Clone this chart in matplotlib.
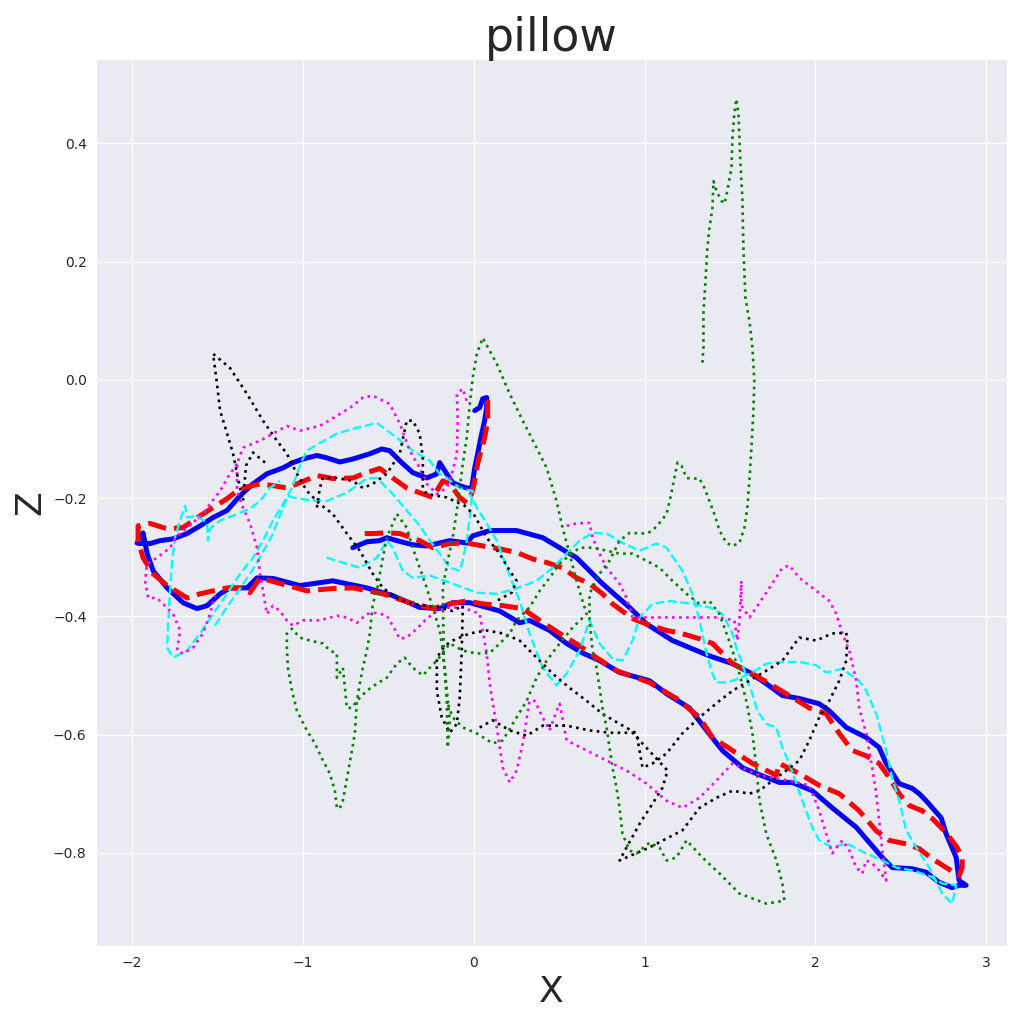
import matplotlib
matplotlib.use("Agg")
import matplotlib.pyplot as plt
import seaborn as sns

sns.set_style("darkgrid")
plt.rcParams['font.family'] = ['DejaVu Sans']

title = "pillow"
xlabel = "X"
ylabel = "Z"

# ---- blue solid trajectory ----
blue_x = [0.006, 0.035, 0.053, 0.076, 0.076, 0.064, 0.047, 0.023, 0.006, -0.006, -0.012, -0.041, -0.082, -0.123,
          -0.158, -0.199, -0.216, -0.275, -0.357, -0.433, -0.491, -0.538, -0.608, -0.708, -0.784, -0.860, -0.918,
          -1.000, -1.058, -1.117, -1.211, -1.292, -1.368, -1.444, -1.526, -1.602, -1.678, -1.760, -1.836, -1.895,
          -1.953, -1.971, -1.936, -1.912, -1.877, -1.795, -1.702, -1.620, -1.561, -1.485, -1.427, -1.327, -1.269,
          -1.175, -1.018, -0.825, -0.626, -0.474, -0.316, -0.199, -0.123, -0.023, 0.076, 0.152, 0.269, 0.327, 0.444,
          0.544, 0.637, 0.737, 0.854, 1.029, 1.129, 1.263, 1.363, 1.456, 1.573, 1.655, 1.789, 1.865, 1.982, 2.099,
          2.240, 2.392, 2.450, 2.567, 2.649, 2.725, 2.801, 2.842, 2.883, 2.842, 2.825, 2.766, 2.737, 2.649, 2.608,
          2.567, 2.491, 2.415, 2.374, 2.298, 2.181, 2.082, 2.023, 1.906, 1.807, 1.713, 1.614, 1.515, 1.380, 1.263,
          1.164, 1.012, 0.912, 0.754, 0.678, 0.602, 0.503, 0.404, 0.251, 0.094, -0.006, -0.041, -0.140, -0.216,
          -0.275, -0.357, -0.450, -0.509, -0.550, -0.626, -0.708]
blue_z = [-0.052, -0.047, -0.032, -0.030, -0.047, -0.069, -0.091, -0.125, -0.149, -0.171, -0.183, -0.183, -0.179,
          -0.174, -0.159, -0.140, -0.159, -0.166, -0.157, -0.137, -0.120, -0.117, -0.125, -0.134, -0.139, -0.132,
          -0.128, -0.134, -0.140, -0.149, -0.159, -0.176, -0.196, -0.221, -0.233, -0.247, -0.260, -0.269, -0.272,
          -0.277, -0.277, -0.276, -0.259, -0.294, -0.323, -0.352, -0.377, -0.387, -0.382, -0.362, -0.352, -0.352,
          -0.335, -0.336, -0.348, -0.340, -0.352, -0.365, -0.385, -0.387, -0.377, -0.377, -0.385, -0.391, -0.411,
          -0.407, -0.424, -0.446, -0.462, -0.475, -0.495, -0.509, -0.531, -0.555, -0.593, -0.627, -0.656, -0.666,
          -0.681, -0.681, -0.695, -0.724, -0.757, -0.808, -0.825, -0.827, -0.833, -0.850, -0.859, -0.855, -0.855,
          -0.847, -0.808, -0.768, -0.741, -0.712, -0.700, -0.691, -0.683, -0.649, -0.622, -0.605, -0.588, -0.560,
          -0.548, -0.539, -0.534, -0.514, -0.495, -0.480, -0.467, -0.453, -0.441, -0.413, -0.385, -0.345, -0.323,
          -0.301, -0.284, -0.267, -0.255, -0.255, -0.264, -0.276, -0.272, -0.277, -0.281, -0.279, -0.272, -0.267,
          -0.272, -0.274, -0.284]

# ---- red dashed trajectory ----
red_x = [0.082, 0.082, 0.064, 0.047, 0.023, 0.006, -0.012, -0.041, -0.082, -0.140, -0.181, -0.240, -0.316, -0.392,
         -0.474, -0.550, -0.626, -0.708, -0.825, -0.918, -1.018, -1.094, -1.175, -1.251, -1.327, -1.386, -1.444,
         -1.526, -1.602, -1.702, -1.795, -1.895, -1.965, -1.965, -1.936, -1.877, -1.795, -1.678, -1.602, -1.526,
         -1.444, -1.368, -1.310, -1.251, -1.152, -0.977, -0.825, -0.708, -0.532, -0.374, -0.240, -0.140, -0.041,
         0.053, 0.170, 0.287, 0.386, 0.503, 0.620, 0.719, 0.836, 0.953, 1.029, 1.187, 1.322, 1.398, 1.515, 1.632,
         1.772, 1.789, 1.906, 2.023, 2.140, 2.257, 2.357, 2.433, 2.532, 2.608, 2.684, 2.766, 2.842, 2.860, 2.860,
         2.830, 2.766, 2.684, 2.626, 2.550, 2.491, 2.433, 2.374, 2.298, 2.216, 2.140, 2.064, 1.965, 1.830, 1.731,
         1.632, 1.515, 1.398, 1.322, 1.205, 1.129, 1.012, 0.930, 0.813, 0.754, 0.678, 0.602, 0.520, 0.427, 0.345,
         0.251, 0.152, 0.053, -0.041, -0.140, -0.240, -0.316, -0.433, -0.509, -0.591, -0.667]
red_z = [-0.034, -0.069, -0.098, -0.115, -0.142, -0.171, -0.193, -0.208, -0.199, -0.176, -0.171, -0.199, -0.191,
         -0.183, -0.166, -0.150, -0.157, -0.166, -0.167, -0.162, -0.174, -0.183, -0.179, -0.176, -0.181, -0.188,
         -0.201, -0.216, -0.230, -0.250, -0.252, -0.243, -0.247, -0.272, -0.301, -0.328, -0.348, -0.369, -0.362,
         -0.357, -0.352, -0.353, -0.360, -0.335, -0.343, -0.357, -0.353, -0.352, -0.362, -0.377, -0.387, -0.379,
         -0.374, -0.379, -0.382, -0.387, -0.407, -0.429, -0.450, -0.470, -0.492, -0.504, -0.512, -0.539, -0.571,
         -0.605, -0.627, -0.649, -0.669, -0.649, -0.666, -0.686, -0.700, -0.729, -0.763, -0.779, -0.785, -0.793,
         -0.810, -0.825, -0.839, -0.825, -0.808, -0.791, -0.766, -0.742, -0.729, -0.720, -0.700, -0.673, -0.649,
         -0.636, -0.627, -0.598, -0.565, -0.555, -0.531, -0.514, -0.497, -0.480, -0.446, -0.438, -0.428, -0.424,
         -0.413, -0.404, -0.379, -0.362, -0.345, -0.335, -0.318, -0.309, -0.303, -0.292, -0.286, -0.281, -0.276,
         -0.277, -0.284, -0.272, -0.260, -0.259, -0.260, -0.260]

# ---- cyan dashed trajectory (two pieces) ----
cyan1_x = [-1.515, -1.439, -1.368, -1.298, -1.240, -1.181, -1.135, -1.088, -1.058, -0.977, -0.860, -0.743, -0.626,
           -0.567, -0.474, -0.392, -0.316, -0.257, -0.199, -0.140, -0.082, -0.064, -0.041, -0.023, -0.006, -0.082,
           -0.158, -0.199, -0.257, -0.357, -0.450, -0.567, -0.708, -0.801, -0.901, -0.977, -1.006, -1.035, -1.064,
           -1.117, -1.175, -1.234, -1.292, -1.368, -1.444, -1.526, -1.602, -1.678, -1.760, -1.795, -1.789, -1.778,
           -1.766, -1.749, -1.719, -1.690, -1.678, -1.620, -1.561, -1.556, -1.544, -1.485, -1.409, -1.310, -1.251,
           -1.193, -1.135]
cyan1_z = [-0.416, -0.382, -0.353, -0.323, -0.294, -0.264, -0.230, -0.196, -0.199, -0.203, -0.205, -0.191, -0.167,
           -0.166, -0.193, -0.221, -0.247, -0.272, -0.294, -0.318, -0.323, -0.306, -0.272, -0.233, -0.188, -0.183,
           -0.166, -0.159, -0.137, -0.120, -0.098, -0.073, -0.083, -0.091, -0.107, -0.120, -0.137, -0.159, -0.183,
           -0.210, -0.238, -0.272, -0.301, -0.328, -0.362, -0.396, -0.429, -0.458, -0.470, -0.453, -0.413, -0.357,
           -0.306, -0.267, -0.238, -0.213, -0.233, -0.230, -0.243, -0.272, -0.252, -0.238, -0.230, -0.218, -0.205,
           -0.183, -0.171]
cyan2_x = [-0.860, -0.667, -0.567, -0.509, -0.474, -0.415, -0.357, -0.257, -0.123, 0.018, 0.135, 0.251, 0.368,
           0.462, 0.544, 0.620, 0.696, 0.778, 0.871, 0.971, 1.070, 1.129, 1.222, 1.281, 1.322, 1.363, 1.398, 1.421,
           1.480, 1.556, 1.632, 1.713, 1.772, 1.906, 2.006, 2.064, 2.158, 2.257, 2.298, 2.357, 2.415, 2.450, 2.491,
           2.532, 2.591, 2.667, 2.743, 2.801, 2.825, 2.743, 2.667, 2.567, 2.474, 2.392, 2.298, 2.181, 2.099, 2.023,
           1.982, 1.924, 1.889, 1.848, 1.807, 1.772, 1.713, 1.661, 1.632, 1.602, 1.573, 1.538, 1.515, 1.456, 1.380,
           1.281, 1.146, 1.047, 0.971, 0.930, 0.871, 0.813, 0.737, 0.678, 0.620, 0.544, 0.485, 0.404, 0.327, 0.269,
           0.193, 0.135, 0.076, 0.018, -0.023]
cyan2_z = [-0.301, -0.318, -0.301, -0.272, -0.284, -0.323, -0.335, -0.331, -0.345, -0.360, -0.362, -0.353, -0.340,
           -0.318, -0.294, -0.272, -0.259, -0.260, -0.276, -0.289, -0.277, -0.284, -0.323, -0.362, -0.407, -0.463,
           -0.497, -0.512, -0.512, -0.505, -0.495, -0.480, -0.478, -0.477, -0.483, -0.495, -0.489, -0.509, -0.526,
           -0.565, -0.627, -0.673, -0.712, -0.762, -0.791, -0.825, -0.869, -0.886, -0.855, -0.852, -0.839, -0.830,
           -0.825, -0.813, -0.801, -0.784, -0.791, -0.779, -0.757, -0.712, -0.683, -0.649, -0.622, -0.588, -0.582,
           -0.560, -0.531, -0.509, -0.480, -0.453, -0.429, -0.396, -0.385, -0.379, -0.374, -0.379, -0.402, -0.441,
           -0.475, -0.472, -0.446, -0.407, -0.458, -0.497, -0.517, -0.487, -0.429, -0.374, -0.318, -0.272, -0.243,
           -0.216, -0.193]

# ---- magenta dotted trajectory (two pieces) ----
mag1_x = [0.544, 0.602, 0.678, 0.696, 0.737, 0.778, 0.854, 0.895, 0.930, 1.047, 1.246, 1.439, 1.526, 1.544, 1.556,
          1.567, 1.567, 1.614, 1.655, 1.731, 1.807, 1.848, 1.906, 2.006, 2.082, 2.123, 2.158, 2.199, 2.240, 2.257,
          2.298, 2.333, 2.357, 2.374, 2.392, 2.415, 2.374, 2.333, 2.298, 2.275, 2.240, 2.199, 2.158, 2.099, 2.064,
          2.023, 1.965, 1.848, 1.673, 1.515, 1.421, 1.322, 1.222, 1.129, 1.012, 0.895, 0.778, 0.661, 0.544, 0.503,
          0.485, 0.444, 0.404, 0.357, 0.327, 0.287, 0.251, 0.211, 0.170, 0.135, 0.094, 0.076, 0.035, -0.064, -0.140,
          -0.216, -0.275, -0.333, -0.392, -0.433, -0.474, -0.509, -0.567, -0.626, -0.684, -0.743, -0.801, -0.901,
          -1.000, -1.058, -1.094, -1.135, -1.175, -1.211, -1.234, -1.251, -1.269, -1.310, -1.351, -1.386, -1.386,
          -1.351, -1.251, -1.175, -1.094, -1.018, -0.901, -0.801, -0.708, -0.649, -0.591, -0.491, -0.433, -0.374,
          -0.316, -0.275, -0.216, -0.158, -0.123, -0.099, -0.094, -0.099, -0.064, -0.041]
mag1_z = [-0.247, -0.243, -0.242, -0.267, -0.294, -0.318, -0.345, -0.369, -0.402, -0.402, -0.402, -0.402, -0.407,
          -0.441, -0.407, -0.340, -0.382, -0.402, -0.385, -0.352, -0.318, -0.314, -0.335, -0.357, -0.374, -0.396,
          -0.429, -0.458, -0.509, -0.555, -0.598, -0.656, -0.700, -0.746, -0.796, -0.847, -0.830, -0.818, -0.813,
          -0.835, -0.825, -0.796, -0.779, -0.801, -0.768, -0.729, -0.686, -0.678, -0.669, -0.649, -0.678, -0.707,
          -0.724, -0.712, -0.683, -0.661, -0.644, -0.627, -0.610, -0.548, -0.560, -0.593, -0.571, -0.543, -0.543,
          -0.615, -0.661, -0.681, -0.656, -0.588, -0.514, -0.463, -0.396, -0.385, -0.385, -0.391, -0.404, -0.421,
          -0.436, -0.438, -0.416, -0.399, -0.394, -0.396, -0.411, -0.402, -0.399, -0.407, -0.407, -0.416, -0.407,
          -0.391, -0.382, -0.396, -0.357, -0.328, -0.284, -0.243, -0.216, -0.188, -0.142, -0.115, -0.103, -0.091,
          -0.078, -0.086, -0.078, -0.061, -0.044, -0.030, -0.027, -0.041, -0.074, -0.120, -0.149, -0.176, -0.193,
          -0.183, -0.154, -0.125, -0.069, -0.024, -0.015, -0.036]
mag2_x = [-1.386, -1.427, -1.485, -1.544, -1.585, -1.678, -1.737, -1.778, -1.854, -1.912, -1.924, -1.906, -1.854,
          -1.819, -1.760, -1.719, -1.737, -1.702, -1.643, -1.585, -1.544, -1.515]
mag2_z = [-0.142, -0.159, -0.188, -0.210, -0.227, -0.250, -0.264, -0.284, -0.301, -0.311, -0.340, -0.369, -0.369,
          -0.379, -0.396, -0.424, -0.458, -0.463, -0.453, -0.429, -0.396, -0.365]

# ---- black dotted trajectory (two pieces) ----
blk1_x = [-1.222, -1.292, -1.333, -1.351, -1.380, -1.409, -1.444, -1.485, -1.503, -1.526, -1.427, -1.327, -1.234,
          -1.152, -1.094, -1.035, -0.977, -0.901, -0.825, -0.743, -0.667, -0.591, -0.532, -0.450, -0.357, -0.275,
          -0.199, -0.123, -0.064, -0.070, -0.082, -0.099, -0.140, -0.187, -0.216, -0.216, -0.170, -0.123, -0.023,
          0.076, 0.170, 0.269, 0.368, 0.462, 0.561, 0.661, 0.754, 0.854, 0.953, 0.971, 0.988, 1.047, 1.129, 1.222,
          1.322, 1.439, 1.515, 1.614, 1.713, 1.807, 1.906, 2.006, 2.099, 2.181, 2.187, 2.181, 2.140, 2.082, 2.023,
          1.965, 1.906, 1.830, 1.749, 1.673, 1.614, 1.515, 1.421, 1.322, 1.222, 1.029, 0.854, 0.895, 0.971, 1.047,
          1.105, 1.135, 0.930, 0.795, 0.678, 0.544, 0.404, 0.310, 0.211, 0.111, 0.023]
blk1_z = [-0.140, -0.123, -0.145, -0.205, -0.167, -0.125, -0.091, -0.052, -0.007, 0.044, 0.020, -0.024, -0.069,
          -0.103, -0.125, -0.159, -0.188, -0.210, -0.227, -0.260, -0.289, -0.328, -0.352, -0.369, -0.379, -0.382,
          -0.385, -0.391, -0.382, -0.458, -0.538, -0.582, -0.597, -0.571, -0.526, -0.470, -0.450, -0.441, -0.429,
          -0.424, -0.429, -0.441, -0.470, -0.497, -0.521, -0.543, -0.565, -0.582, -0.598, -0.627, -0.656, -0.649,
          -0.632, -0.598, -0.571, -0.543, -0.526, -0.509, -0.492, -0.475, -0.436, -0.441, -0.429, -0.428, -0.441,
          -0.475, -0.509, -0.543, -0.571, -0.610, -0.644, -0.661, -0.678, -0.695, -0.700, -0.695, -0.707, -0.724,
          -0.762, -0.791, -0.813, -0.791, -0.751, -0.717, -0.690, -0.661, -0.597, -0.597, -0.593, -0.585, -0.585,
          -0.602, -0.593, -0.576, -0.590]
blk2_x = [-0.918, -0.901, -0.883, -0.801, -0.708, -0.649, -0.591, -0.509, -0.433, -0.392, -0.357, -0.316, -0.298,
          -0.298, -0.275, -0.158, -0.053, 0.006, 0.076, 0.152, 0.211, 0.251, 0.222, 0.135]
blk2_z = [-0.216, -0.183, -0.166, -0.166, -0.171, -0.183, -0.176, -0.159, -0.125, -0.069, -0.069, -0.091, -0.132,
          -0.183, -0.193, -0.199, -0.213, -0.230, -0.267, -0.294, -0.323, -0.340, -0.360, -0.374]

# ---- green dotted trajectory ----
grn_x = [1.339, 1.345, 1.345, 1.357, 1.368, 1.380, 1.398, 1.404, 1.421, 1.450, 1.468, 1.485, 1.509, 1.515, 1.526,
         1.538, 1.550, 1.561, 1.573, 1.579, 1.591, 1.614, 1.632, 1.643, 1.637, 1.626, 1.614, 1.602, 1.585, 1.556,
         1.515, 1.480, 1.439, 1.409, 1.380, 1.351, 1.322, 1.281, 1.246, 1.216, 1.193, 1.175, 1.152, 1.129, 1.088,
         1.047, 1.012, 0.912, 0.854, 0.795, 0.737, 0.678, 0.678, 0.696, 0.719, 0.737, 0.754, 0.778, 0.795, 0.813,
         0.836, 0.854, 0.871, 0.912, 0.953, 1.029, 1.088, 1.129, 1.187, 1.246, 1.339, 1.439, 1.556, 1.713, 1.819,
         1.807, 1.772, 1.713, 1.673, 1.655, 1.632, 1.596, 1.556, 1.515, 1.480, 1.439, 1.380, 1.322, 1.246, 1.164,
         1.088, 1.012, 0.930, 0.854, 0.778, 0.696, 0.620, 0.544, 0.503, 0.444, 0.386, 0.327, 0.251, 0.211, 0.152,
         0.094, 0.018, -0.064, -0.140, -0.216, -0.257, -0.298, -0.357, -0.404, -0.450, -0.509, -0.567, -0.626,
         -0.684, -0.713, -0.743, -0.754, -0.766, -0.801, -0.801, -0.842, -0.883, -0.959, -1.018, -1.064, -1.094,
         -1.094, -1.088, -1.064, -1.035, -0.977, -0.930, -0.883, -0.842, -0.813, -0.801, -0.784, -0.766, -0.737,
         -0.713, -0.696, -0.684, -0.667, -0.649, -0.626, -0.608, -0.591, -0.567, -0.532, -0.509, -0.450, -0.392,
         -0.357, -0.316, -0.275, -0.240, -0.199, -0.181, -0.170, -0.158, -0.152, -0.140, -0.175, -0.181, -0.152,
         -0.123, -0.099, -0.082, -0.064, -0.041, -0.023, -0.006, 0.018, 0.053, 0.135, 0.211, 0.287, 0.368, 0.427,
         0.485, 0.520, 0.561, 0.602, 0.637, 0.661, 0.579, 0.503, 0.427, 0.368, 0.310, 0.228, 0.170, 0.111, 0.018,
         -0.064, -0.123, -0.158]
grn_z = [0.029, 0.054, 0.112, 0.167, 0.223, 0.257, 0.291, 0.336, 0.320, 0.303, 0.298, 0.320, 0.358, 0.409, 0.450,
         0.475, 0.450, 0.370, 0.308, 0.223, 0.139, 0.100, 0.054, -0.002, -0.057, -0.115, -0.171, -0.216, -0.250,
         -0.276, -0.281, -0.276, -0.255, -0.227, -0.205, -0.183, -0.167, -0.167, -0.166, -0.145, -0.140, -0.166,
         -0.199, -0.227, -0.242, -0.255, -0.260, -0.259, -0.272, -0.306, -0.328, -0.362, -0.407, -0.458, -0.487,
         -0.521, -0.555, -0.588, -0.622, -0.656, -0.690, -0.724, -0.768, -0.796, -0.801, -0.783, -0.791, -0.813,
         -0.808, -0.779, -0.808, -0.835, -0.869, -0.886, -0.881, -0.852, -0.813, -0.768, -0.712, -0.656, -0.598,
         -0.543, -0.497, -0.458, -0.429, -0.396, -0.374, -0.379, -0.362, -0.340, -0.318, -0.306, -0.294, -0.294,
         -0.289, -0.284, -0.284, -0.301, -0.311, -0.335, -0.357, -0.385, -0.407, -0.429, -0.446, -0.462, -0.463,
         -0.458, -0.446, -0.475, -0.487, -0.500, -0.487, -0.470, -0.480, -0.504, -0.514, -0.526, -0.543, -0.555,
         -0.555, -0.521, -0.487, -0.504, -0.463, -0.458, -0.446, -0.441, -0.436, -0.421, -0.429, -0.453, -0.487,
         -0.526, -0.560, -0.593, -0.615, -0.644, -0.666, -0.695, -0.724, -0.725, -0.712, -0.666, -0.627, -0.598,
         -0.543, -0.514, -0.487, -0.458, -0.429, -0.379, -0.357, -0.301, -0.267, -0.227, -0.250, -0.284, -0.318,
         -0.352, -0.385, -0.424, -0.458, -0.487, -0.543, -0.622, -0.576, -0.475, -0.352, -0.306, -0.267, -0.221,
         -0.183, -0.142, -0.098, -0.041, 0.003, 0.044, 0.071, 0.027, -0.024, -0.069, -0.115, -0.149, -0.205, -0.250,
         -0.294, -0.340, -0.374, -0.396, -0.419, -0.446, -0.475, -0.504, -0.543, -0.582, -0.610, -0.615, -0.598,
         -0.588, -0.571, -0.543]

fig = plt.figure(figsize=(10.24, 10.24), dpi=100)
ax = fig.add_axes([0.094, 0.076, 0.889, 0.866])

ax.plot(blue_x, blue_z, color='blue', linestyle='-', linewidth=3.6)
ax.plot(red_x, red_z, color='red', linestyle='--', linewidth=3.6)
for xs, zs in [(cyan1_x, cyan1_z), (cyan2_x, cyan2_z)]:
    ax.plot(xs, zs, color='cyan', linestyle='--', linewidth=1.7)
for xs, zs in [(mag1_x, mag1_z), (mag2_x, mag2_z)]:
    ax.plot(xs, zs, color='magenta', linestyle=':', linewidth=1.9)
for xs, zs in [(blk1_x, blk1_z), (blk2_x, blk2_z)]:
    ax.plot(xs, zs, color='black', linestyle=':', linewidth=1.9)
ax.plot(grn_x, grn_z, color='green', linestyle=':', linewidth=1.9)

ax.set_xlim(-2.21, 3.12)
ax.set_ylim(-0.958, 0.542)
ax.set_xticks([-2, -1, 0, 1, 2, 3])
ax.set_yticks([-0.8, -0.6, -0.4, -0.2, 0.0, 0.2, 0.4])
ax.set_yticklabels(['−0.8', '−0.6', '−0.4', '−0.2', '0.0', '0.2', '0.4'])
ax.tick_params(labelsize=10)
ax.set_title(title, fontsize=33)
ax.set_xlabel(xlabel, fontsize=26)
ax.set_ylabel(ylabel, fontsize=26)

fig.savefig("out.png", dpi=100)
